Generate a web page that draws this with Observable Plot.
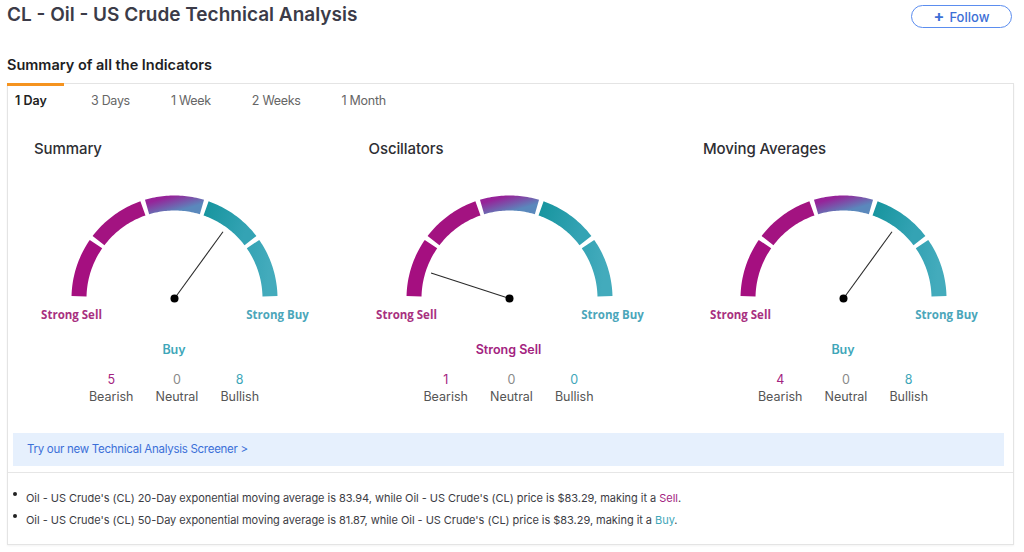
<!DOCTYPE html>
<html>
<head>
<meta charset="utf-8">
<script src="https://cdn.jsdelivr.net/npm/d3@7"></script>
<script src="https://cdn.jsdelivr.net/npm/@observablehq/plot@0.6"></script>
<style>
  html, body { margin: 0; padding: 0; background: #fff; }
  body { width: 1024px; height: 552px; position: relative; overflow: hidden; font-family: Inter, "Open Sans", sans-serif; }
  .abs { position: absolute; white-space: nowrap; }
  .card { position: absolute; left: 7px; top: 83px; width: 1007px; height: 462px; border: 1px solid #e4e4e4; box-sizing: border-box; box-shadow: 0 1px 2px rgba(0,0,0,0.05); }
</style>
</head>
<body>
<div id="root"></div>
<script>
// ---------- data ----------
const pageTitle = "CL - Oil - US Crude Technical Analysis";
const sectionTitle = "Summary of all the Indicators";
const tabs = ["1 Day", "3 Days", "1 Week", "2 Weeks", "1 Month"];
const gaugeTitles = ["Summary", "Oscillators", "Moving Averages"];
const verdicts = ["Buy", "Strong Sell", "Buy"];
const bearishCounts = [5, 1, 4];
const neutralCounts = [0, 0, 0];
const bullishCounts = [8, 0, 8];
const needleValues = [0.70, 0.10, 0.70];          // 0 = Strong Sell, 1 = Strong Buy
const zoneNames = ["Strong Sell", "Sell", "Neutral", "Buy", "Strong Buy"];
const zoneBreaks = [0, 0.2, 0.4, 0.6, 0.8, 1];
const emaPeriods = [20, 50];
const emaValues = [83.94, 81.87];
const lastPrice = 83.29;
const emaSignals = ["Sell", "Buy"];

// ---------- styles ----------
const MAGENTA = "#a3237f", TEAL = "#3ea6b9";
const zoneFills = ["#a50f80", "#a31381", "url(#gNeutral)", "url(#gBuy)", "url(#gStrongBuy)"];

const body = document.body;
function el(tag, cls, style, text) {
  const e = document.createElement(tag);
  if (cls) e.className = cls;
  Object.assign(e.style, style || {});
  if (text != null) e.textContent = text;
  body.appendChild(e);
  return e;
}

// header
el("div", "abs", {left: "7px", top: "3px", fontSize: "19px", fontWeight: "600", color: "#3b3b48", lineHeight: "24px"}, pageTitle);
const btn = el("div", "abs", {left: "911px", top: "5px", width: "101px", height: "23px", border: "1px solid #5b8def", borderRadius: "12px", boxSizing: "border-box", color: "#3d6fd6", fontSize: "13px", fontWeight: "500", lineHeight: "21px", textAlign: "center"});
btn.innerHTML = '<span style="font-weight:700;font-size:16px;margin-right:5px">+</span>Follow';
el("div", "abs", {left: "7px", top: "55px", fontSize: "14.5px", fontWeight: "600", color: "#1e1e24", lineHeight: "20px"}, sectionTitle);

el("div", "card", {});
el("div", "abs", {left: "7px", top: "83px", width: "57px", height: "3px", background: "#f5931f"});

// tabs
const tabRow = el("div", "abs", {left: "15px", top: "92px", display: "flex", gap: "41px", fontSize: "12.5px", lineHeight: "18px", letterSpacing: "-0.3px"});
tabs.forEach((t, i) => {
  const s = document.createElement("span");
  s.textContent = t;
  s.style.color = i === 0 ? "#222" : "#666";
  s.style.fontWeight = i === 0 ? "600" : "400";
  if (i === 0) { s.style.minWidth = "35px"; s.style.letterSpacing = "0px"; }
  tabRow.appendChild(s);
});

// gauges
const OUTER = 103, INNER = 88, PX = 103;          // px, PX px per unit
const W = 334, H = 145, CY = 118;                 // plot size, centre from top
const midR = (OUTER + INNER) / 2 / PX;
const gapDeg = 1.3;

function arcPoints() {
  const pts = [];
  zoneNames.forEach((z, k) => {
    const a0 = Math.PI * (1 - zoneBreaks[k]) - gapDeg * Math.PI / 180;
    const a1 = Math.PI * (1 - zoneBreaks[k + 1]) + gapDeg * Math.PI / 180;
    const n = 30;
    for (let j = 0; j <= n; j++) {
      const a = a0 + (a1 - a0) * j / n;
      pts.push({zone: z, color: zoneFills[k], x: midR * Math.cos(a), y: midR * Math.sin(a)});
    }
  });
  return pts;
}
const arcs = arcPoints();

function defsMark() {
  return () => {
    const defs = d3.create("svg:defs");
    const mk = (id, c0, c1) => {
      const g = defs.append("linearGradient").attr("id", id).attr("x1", 0).attr("y1", 0).attr("x2", 1).attr("y2", 0.25);
      g.append("stop").attr("offset", "0%").attr("stop-color", c0);
      g.append("stop").attr("offset", "100%").attr("stop-color", c1);
    };
    mk("gNeutral", "#962399", "#5a88bc");
    mk("gBuy", "#18959f", "#34a3b4");
    mk("gStrongBuy", "#38a5b6", "#43abbc");
    return defs.node();
  };
}

const centers = [174, 508.5, 843];
gaugeTitles.forEach((title, i) => {
  const cx = centers[i];
  el("div", "abs", {left: (cx - 140) + "px", top: "139px", fontSize: "15px", fontWeight: "500", color: "#2e2e33", lineHeight: "20px", letterSpacing: "-0.1px"}, title);

  const v = needleValues[i];
  const ang = Math.PI * (1 - v);
  const L = 82.5 / PX;
  const needle = [{x1: 0, y1: 0, x2: L * Math.cos(ang), y2: L * Math.sin(ang)}];

  const chart = Plot.plot({
    width: W, height: H, margin: 0,
    x: {domain: [-(W / 2) / PX, (W / 2) / PX], axis: null},
    y: {domain: [-(H - CY) / PX, CY / PX], axis: null},
    color: {type: "identity"},
    marks: [
      defsMark(),
      Plot.line(arcs, {x: "x", y: "y", z: "zone", stroke: "color", strokeWidth: OUTER - INNER, strokeLinecap: "butt", curve: "linear"}),
      Plot.link(needle, {x1: "x1", y1: "y1", x2: "x2", y2: "y2", stroke: "#2a2a2a", strokeWidth: 1.1}),
      Plot.dot([{x: 0, y: 0}], {x: "x", y: "y", r: 4, fill: "#000"}),
      Plot.text([zoneNames[0]], {x: -OUTER / PX, y: 0, dy: 17, text: d => d, fill: "#a8307f", fontWeight: "bold", fontSize: 11.5, fontFamily: "Open Sans"}),
      Plot.text([zoneNames[4]], {x: OUTER / PX, y: 0, dy: 17, text: d => d, fill: "#4ba6ba", fontWeight: "bold", fontSize: 11.5, fontFamily: "Open Sans"})
    ]
  });
  const holder = el("div", "abs", {left: (cx - W / 2) + "px", top: (298 - CY) + "px", width: W + "px", height: H + "px"});
  holder.appendChild(chart);

  el("div", "abs", {left: cx + "px", top: "341px", transform: "translateX(-50%)", fontSize: "12.5px", fontWeight: "600", lineHeight: "18px", color: verdicts[i].includes("Buy") ? TEAL : MAGENTA}, verdicts[i]);

  const row = el("div", "abs", {left: cx + "px", top: "371px", transform: "translateX(-50%)", display: "flex", gap: "22px", textAlign: "center"});
  [[bearishCounts[i], "Bearish", MAGENTA], [neutralCounts[i], "Neutral", "#8a8a8a"], [bullishCounts[i], "Bullish", TEAL]].forEach(([n, lab, col]) => {
    const c = document.createElement("div");
    c.innerHTML = `<div style="font-size:12.5px;line-height:18px;color:${col}">${n}</div><div style="font-size:12.5px;line-height:16px;color:#555">${lab}</div>`;
    row.appendChild(c);
  });
});

// screener banner
el("div", "abs", {left: "13px", top: "433px", width: "991px", height: "33px", background: "#e6f0fd"});
el("div", "abs", {left: "27px", top: "440px", fontSize: "11.5px", lineHeight: "18px", color: "#3b6fd8", letterSpacing: "-0.28px"}, "Try our new Technical Analysis Screener >");
el("div", "abs", {left: "8px", top: "472px", width: "1005px", height: "1px", background: "#e6e6e6"});

// bullets
emaPeriods.forEach((p, k) => {
  const yc = [498, 520][k];
  el("div", "abs", {left: "13px", top: (yc - 6) + "px", width: "4px", height: "4px", borderRadius: "2px", background: "#222"});
  const d = el("div", "abs", {left: "26px", top: (yc - 9) + "px", fontSize: "11px", lineHeight: "18px", color: "#3c3c44", letterSpacing: "-0.04px"});
  const col = emaSignals[k] === "Buy" ? TEAL : MAGENTA;
  d.innerHTML = `Oil - US Crude's (CL) ${p}-Day exponential moving average is ${emaValues[k].toFixed(2)}, while Oil - US Crude's (CL) price is $${lastPrice.toFixed(2)}, making it a <span style="color:${col}">${emaSignals[k]}</span>.`;
});
</script>
</body>
</html>
